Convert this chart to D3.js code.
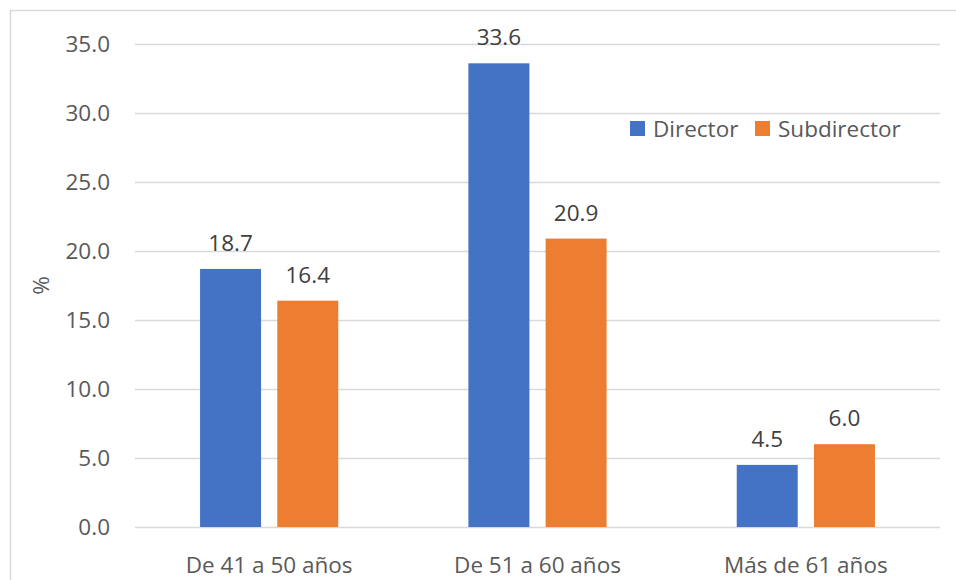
<!DOCTYPE html>
<html>
<head>
<meta charset="utf-8">
<script src="https://cdn.jsdelivr.net/npm/d3@7"></script>
<style>
  body { margin: 0; background: #fff; }
  svg { display: block; }
  text { font-family: "Open Sans", "Noto Sans", sans-serif; fill: #595959; }
</style>
</head>
<body>
<svg id="chart" width="956" height="580"></svg>
<script>
// Age groups of school principals and deputy principals (%)
const categories = ["De 41 a 50 años", "De 51 a 60 años", "Más de 61 años"];
const seriesNames = ["Director", "Subdirector"];
const director = [18.7, 33.6, 4.5];
const subdirector = [16.4, 20.9, 6.0];
const yTicks = [0, 5, 10, 15, 20, 25, 30, 35];
const colors = ["#4472C4", "#ED7D31"];

const FONT = '"Open Sans", "Noto Sans", sans-serif';
const FS = 22.5;

const svg = d3.select("#chart");
const margin = { left: 135, right: 16, top: 44, bottom: 53 };
const W = 956, H = 580;

// outer chart frame
svg.append("rect")
  .attr("x", 10.5).attr("y", 10.5)
  .attr("width", W + 20).attr("height", H + 20)
  .attr("fill", "none").attr("stroke", "#d9d9d9").attr("stroke-width", 1.5);

const y = d3.scaleLinear().domain([0, 35]).range([H - margin.bottom, margin.top]);
const x = d3.scaleBand().domain(categories)
  .range([margin.left, W - margin.right])
  .paddingInner(0.485).paddingOuter(0.2425);
const xs = d3.scaleBand().domain(seriesNames)
  .range([0, x.bandwidth()]).paddingInner(0.21);

// gridlines
svg.append("g").selectAll("line").data(yTicks).join("line")
  .attr("x1", margin.left).attr("x2", W - margin.right)
  .attr("y1", d => Math.round(y(d)) + 0.5).attr("y2", d => Math.round(y(d)) + 0.5)
  .attr("stroke", "#d9d9d9").attr("stroke-width", 1.5);

// y-axis labels
const yAxis = d3.axisLeft(y).tickValues(yTicks).tickFormat(d3.format(".1f")).tickSize(0).tickPadding(0);
const gy = svg.append("g").attr("transform", `translate(110,0)`).call(yAxis);
gy.select(".domain").remove();
gy.selectAll("text").attr("font-size", FS).style("fill", "#595959").style("font-family", FONT);

// x-axis labels
const xAxis = d3.axisBottom(x).tickSize(0).tickPadding(0);
const gx = svg.append("g").attr("transform", `translate(0,${H - margin.bottom + 30})`).call(xAxis);
gx.select(".domain").remove();
gx.selectAll("text").attr("font-size", FS).style("fill", "#595959").style("font-family", FONT);

// y-axis title
svg.append("text")
  .attr("transform", `translate(49,${(y(0) + y(35)) / 2}) rotate(-90)`)
  .attr("text-anchor", "middle").attr("font-size", FS).text("%");

// bars + value labels
const rows = categories.map((c, i) => ({ cat: c, vals: [director[i], subdirector[i]] }));
const groups = svg.append("g").selectAll("g").data(rows).join("g")
  .attr("transform", d => `translate(${x(d.cat)},0)`);
const cells = d => d.vals.map((v, j) => ({ name: seriesNames[j], v, j }));
groups.selectAll("rect").data(cells).join("rect")
  .attr("x", d => xs(d.name)).attr("width", xs.bandwidth())
  .attr("y", d => y(d.v)).attr("height", d => y(0) - y(d.v))
  .attr("fill", d => colors[d.j]);
groups.selectAll("text.val").data(cells).join("text")
  .attr("class", "val")
  .attr("x", d => xs(d.name) + xs.bandwidth() / 2)
  .attr("y", d => y(d.v) - 18)
  .attr("text-anchor", "middle").attr("font-size", FS)
  .style("fill", "#404040")
  .text(d => d3.format(".1f")(d.v));

// legend
const legend = svg.append("g").attr("transform", "translate(630,121)");
const items = [{ name: seriesNames[0], dx: 0 }, { name: seriesNames[1], dx: 125 }];
items.forEach((it, i) => {
  legend.append("rect").attr("x", it.dx).attr("y", 0).attr("width", 15).attr("height", 15).attr("fill", colors[i]);
  legend.append("text").attr("x", it.dx + 23).attr("y", 16).attr("font-size", FS).text(it.name);
});
</script>
</body>
</html>
